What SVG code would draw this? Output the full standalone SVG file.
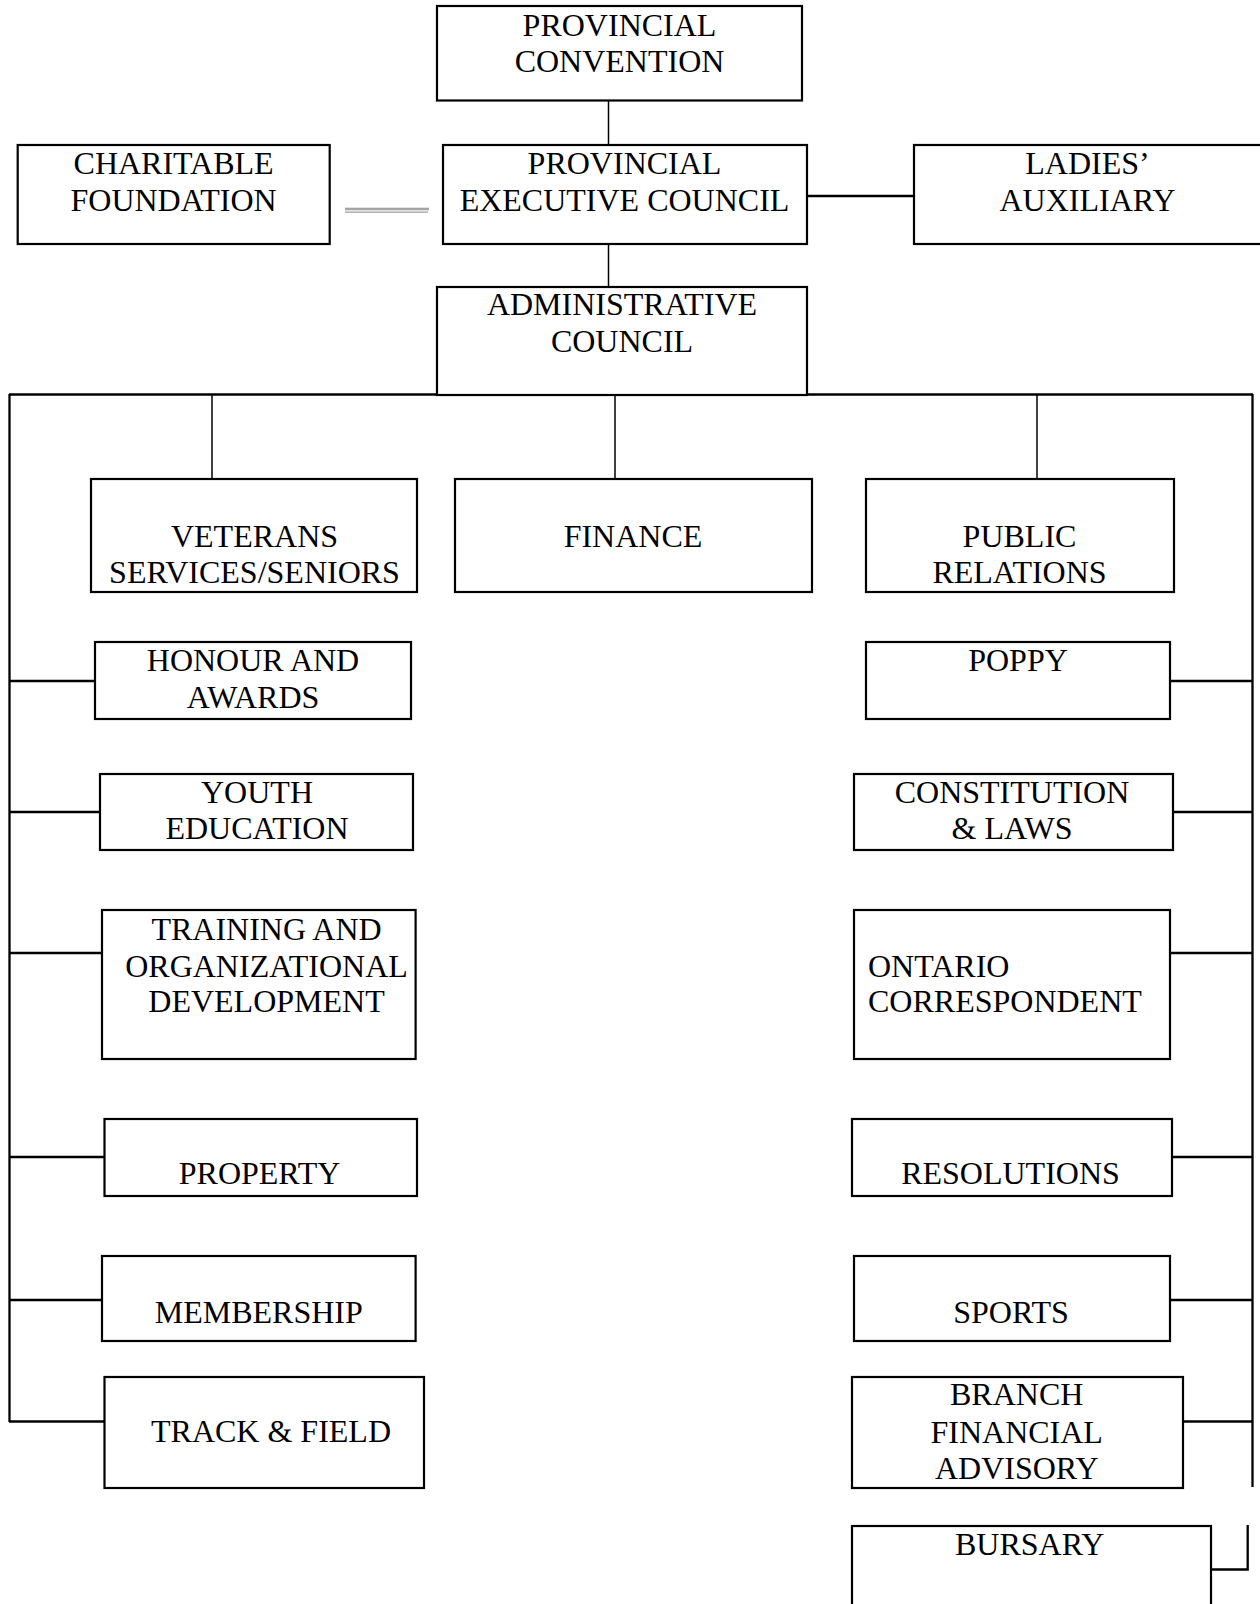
<svg xmlns="http://www.w3.org/2000/svg" width="1260" height="1604" viewBox="0 0 1260 1604">
<style>
.box{fill:#fff;stroke:#000;stroke-width:2.2}
.t{font-family:"Liberation Serif","Times New Roman",serif;font-size:32px;fill:#000;text-anchor:middle}
.tl{font-family:"Liberation Serif","Times New Roman",serif;font-size:32px;fill:#000;text-anchor:start}
.c{stroke:#000;fill:none}
.thin{stroke-width:1.5}
.thick{stroke-width:2.3}
</style>
<rect width="1260" height="1604" fill="#fff"/>
<g id="connectors">
<line class="c thin" x1="608.5" y1="100" x2="608.5" y2="145"/>
<line class="c thin" x1="608.5" y1="244" x2="608.5" y2="287"/>
<line class="c thick" x1="807" y1="196" x2="914" y2="196"/>
<rect x="345" y="207.7" width="84" height="2.6" fill="#a4a4a4"/>
<rect x="345" y="211.5" width="83" height="1.3" fill="#a4a4a4"/>
<line class="c thick" x1="9" y1="394.5" x2="1253" y2="394.5"/>
<line class="c thin" x1="212" y1="395" x2="212" y2="479"/>
<line class="c thin" x1="615" y1="395" x2="615" y2="479"/>
<line class="c thin" x1="1037" y1="395" x2="1037" y2="479"/>
<line class="c thick" x1="9.5" y1="394" x2="9.5" y2="1422"/>
<line class="c thick" x1="1252.5" y1="394" x2="1252.5" y2="1487"/>
<line class="c thick" x1="9" y1="681" x2="95" y2="681"/>
<line class="c thick" x1="9" y1="812" x2="100" y2="812"/>
<line class="c thick" x1="9" y1="953" x2="102" y2="953"/>
<line class="c thick" x1="9" y1="1157" x2="104" y2="1157"/>
<line class="c thick" x1="9" y1="1300" x2="102" y2="1300"/>
<line class="c thick" x1="9" y1="1421.5" x2="104" y2="1421.5"/>
<line class="c thick" x1="1170" y1="681" x2="1253" y2="681"/>
<line class="c thick" x1="1173" y1="812" x2="1253" y2="812"/>
<line class="c thick" x1="1170" y1="953" x2="1253" y2="953"/>
<line class="c thick" x1="1172" y1="1157" x2="1253" y2="1157"/>
<line class="c thick" x1="1170" y1="1300" x2="1253" y2="1300"/>
<line class="c thick" x1="1183" y1="1421.5" x2="1253" y2="1421.5"/>
<polyline class="c thick" points="1247.7,1525 1247.7,1569.5 1211,1569.5"/>
</g>
<g id="provincial-convention"><rect class="box" x="437" y="6" width="365" height="94.5"/><text class="t" x="619.5" y="36">PROVINCIAL</text><text class="t" x="619.5" y="72">CONVENTION</text></g>
<g id="charitable-foundation"><rect class="box" x="17.7" y="145" width="312" height="99"/><text class="t" x="173.6" y="174">CHARITABLE</text><text class="t" x="173.6" y="210.7">FOUNDATION</text></g>
<g id="provincial-executive-council"><rect class="box" x="443" y="145" width="364" height="99"/><text class="t" x="624.5" y="174">PROVINCIAL</text><text class="t" x="624.5" y="210.7">EXECUTIVE COUNCIL</text></g>
<g id="ladies-auxiliary"><rect class="box" x="914" y="145" width="350" height="99"/><text class="t" x="1087.5" y="174">LADIES’</text><text class="t" x="1087.5" y="210.7">AUXILIARY</text></g>
<g id="administrative-council"><rect class="box" x="437" y="287" width="370" height="108"/><text class="t" x="622" y="315">ADMINISTRATIVE</text><text class="t" x="622" y="352.3">COUNCIL</text></g>
<g id="veterans-services"><rect class="box" x="91" y="479" width="326" height="113"/><text class="t" x="254.5" y="546.7">VETERANS</text><text class="t" x="254.5" y="582.7">SERVICES/SENIORS</text></g>
<g id="finance"><rect class="box" x="455" y="479" width="357" height="113"/><text class="t" x="633" y="546.7">FINANCE</text></g>
<g id="public-relations"><rect class="box" x="866" y="479" width="308" height="113"/><text class="t" x="1019.5" y="546.7">PUBLIC</text><text class="t" x="1019.5" y="582.7">RELATIONS</text></g>
<g id="honour-awards"><rect class="box" x="95" y="642" width="316" height="77"/><text class="t" x="253" y="670.7">HONOUR AND</text><text class="t" x="253" y="708.3">AWARDS</text></g>
<g id="poppy"><rect class="box" x="866" y="642" width="304" height="77"/><text class="t" x="1018" y="670.7">POPPY</text></g>
<g id="youth-education"><rect class="box" x="100" y="774" width="313" height="76"/><text class="t" x="257" y="803.3">YOUTH</text><text class="t" x="257" y="839.3">EDUCATION</text></g>
<g id="constitution-laws"><rect class="box" x="854" y="774" width="319" height="76"/><text class="t" x="1012" y="803.3">CONSTITUTION</text><text class="t" x="1012" y="839.3">&amp; LAWS</text></g>
<g id="training"><rect class="box" x="102" y="910" width="313.6" height="149"/><text class="t" x="266.5" y="939.7">TRAINING AND</text><text class="t" x="266.5" y="976.7">ORGANIZATIONAL</text><text class="t" x="266.5" y="1012.3">DEVELOPMENT</text></g>
<g id="ontario-correspondent"><rect class="box" x="854" y="910" width="316" height="149"/><text class="tl" x="868" y="976.7">ONTARIO</text><text class="tl" x="868" y="1012.3">CORRESPONDENT</text></g>
<g id="property"><rect class="box" x="104.5" y="1119" width="312.5" height="77"/><text class="t" x="259.6" y="1184.3">PROPERTY</text></g>
<g id="resolutions"><rect class="box" x="852" y="1119" width="320" height="77"/><text class="t" x="1010.5" y="1184.3">RESOLUTIONS</text></g>
<g id="membership"><rect class="box" x="102" y="1256" width="313.6" height="85"/><text class="t" x="258.8" y="1322.7">MEMBERSHIP</text></g>
<g id="sports"><rect class="box" x="854" y="1256" width="316" height="85"/><text class="t" x="1011" y="1322.7">SPORTS</text></g>
<g id="track-field"><rect class="box" x="104.5" y="1377" width="319.5" height="111"/><text class="t" x="271" y="1442.3">TRACK &amp; FIELD</text></g>
<g id="branch-financial-advisory"><rect class="box" x="852" y="1377" width="331" height="111"/><text class="t" x="1016.7" y="1405">BRANCH</text><text class="t" x="1016.7" y="1442.7">FINANCIAL</text><text class="t" x="1016.7" y="1479.3">ADVISORY</text></g>
<g id="bursary"><rect class="box" x="852" y="1526" width="359" height="90"/><text class="t" x="1029.7" y="1555">BURSARY</text></g>
</svg>
